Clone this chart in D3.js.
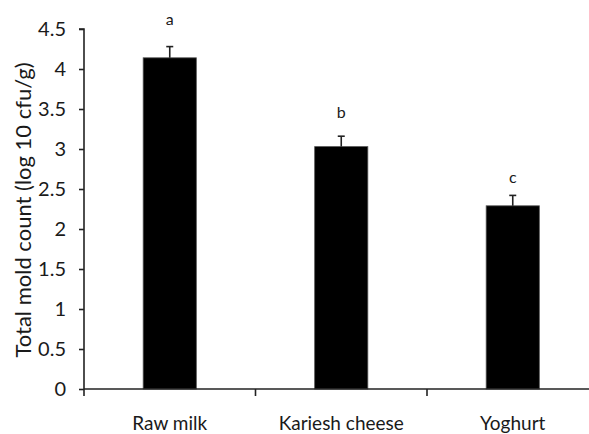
<!DOCTYPE html>
<html>
<head>
<meta charset="utf-8">
<script src="https://cdn.jsdelivr.net/npm/d3@7"></script>
<style>
  html, body { margin: 0; padding: 0; background: #fff; }
  svg { display: block; }
  text { font-family: Lato, "Open Sans", sans-serif; fill: #1a1a1a; }
</style>
</head>
<body>
<svg id="chart" width="589" height="434"></svg>
<script>
// Total mold count per product (log10 cfu/g), with standard error and significance letters
const categories = ["Raw milk", "Kariesh cheese", "Yoghurt"];
const meanCounts = [4.14, 3.03, 2.29];
const stdErrors = [0.14, 0.13, 0.13];
const groupLetters = ["a", "b", "c"];
const letterHeights = [4.55, 3.39, 2.58];
const yTicks = [0, 0.5, 1, 1.5, 2, 2.5, 3, 3.5, 4, 4.5];

const svg = d3.select("#chart");
const margin = { left: 84, top: 29, bottom: 45 };
const height = 434;
const bandStep = 171.5;

const x = d3.scaleBand()
  .domain(categories)
  .range([margin.left, margin.left + bandStep * categories.length])
  .paddingInner(0.69)
  .paddingOuter(0.345);

const y = d3.scaleLinear()
  .domain([0, 4.5])
  .range([height - margin.bottom, margin.top]);

const axisColor = "#222";

// bars
svg.append("g").selectAll("rect")
  .data(categories)
  .join("rect")
  .attr("x", d => x(d))
  .attr("width", x.bandwidth())
  .attr("y", (d, i) => y(meanCounts[i]))
  .attr("height", (d, i) => y(0) - y(meanCounts[i]))
  .attr("fill", "#000")
  .attr("stroke", "#555")
  .attr("stroke-width", 0.8);

// error bars (upper only)
const err = svg.append("g").attr("stroke", axisColor).attr("stroke-width", 1.6);
categories.forEach((c, i) => {
  const cx = x(c) + x.bandwidth() / 2;
  err.append("line")
    .attr("x1", cx).attr("x2", cx)
    .attr("y1", y(meanCounts[i])).attr("y2", y(meanCounts[i] + stdErrors[i]));
  err.append("line")
    .attr("x1", cx - 3.5).attr("x2", cx + 3.5)
    .attr("y1", y(meanCounts[i] + stdErrors[i])).attr("y2", y(meanCounts[i] + stdErrors[i]));
});

// significance letters
svg.append("g").selectAll("text")
  .data(groupLetters)
  .join("text")
  .attr("x", (d, i) => x(categories[i]) + x.bandwidth() / 2)
  .attr("y", (d, i) => y(letterHeights[i]))
  .attr("text-anchor", "middle")
  .attr("font-size", 16)
  .text(d => d);

// y axis
const yAxis = d3.axisLeft(y)
  .tickValues(yTicks)
  .tickFormat(d3.format("~g"))
  .tickSize(5)
  .tickPadding(13);
const gy = svg.append("g")
  .attr("transform", `translate(${margin.left},0)`)
  .call(yAxis);
gy.select(".domain").attr("stroke", axisColor).attr("stroke-width", 1.6)
  .attr("d", `M-5,${y(4.5)}H0V${y(0)}`);
gy.selectAll(".tick line").attr("stroke", axisColor).attr("stroke-width", 1.6);
gy.selectAll(".tick text").attr("font-size", 20).attr("fill", "#1a1a1a")
  .attr("font-family", "Lato, sans-serif");

// x axis: baseline with ticks at band boundaries
const gx = svg.append("g").attr("stroke", axisColor).attr("stroke-width", 1.6);
gx.append("line")
  .attr("x1", margin.left).attr("x2", margin.left + bandStep * categories.length)
  .attr("y1", y(0)).attr("y2", y(0));
d3.range(categories.length).forEach(i => {
  const bx = margin.left + bandStep * i;
  gx.append("line").attr("x1", bx).attr("x2", bx)
    .attr("y1", y(0)).attr("y2", y(0) + 7);
});

svg.append("g").selectAll("text")
  .data(categories)
  .join("text")
  .attr("x", d => x(d) + x.bandwidth() / 2)
  .attr("y", 430)
  .attr("text-anchor", "middle")
  .attr("font-size", 19)
  .text(d => d);

// y axis title
svg.append("text")
  .attr("transform", `translate(31,${(y(0) + y(4.5)) / 2 + 1}) rotate(-90)`)
  .attr("text-anchor", "middle")
  .attr("font-size", 22)
  .text("Total mold count (log 10 cfu/g)");
</script>
</body>
</html>
